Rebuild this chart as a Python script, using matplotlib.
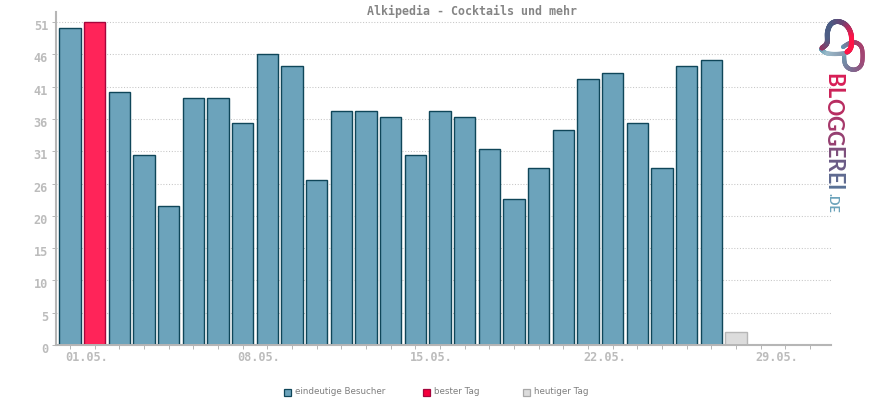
import numpy as np
import matplotlib
matplotlib.use("Agg")
import matplotlib.pyplot as plt
from matplotlib.collections import LineCollection
from matplotlib.colors import to_rgb
from matplotlib.patches import Rectangle
from matplotlib.transforms import ScaledTranslation

title = "Alkipedia - Cocktails und mehr"
days = list(range(31))
visitors = [50, 51, 40, 30, 22, 39, 39, 35, 46, 44, 26, 37, 37, 36, 30, 37, 36, 31, 23, 28, 34, 42, 43, 35, 28, 44, 45]
best_index = 1
today_index = 27
today_value = 2
y_ticks = [0, 5.1, 10.2, 15.3, 20.4, 25.5, 30.6, 35.7, 40.8, 45.9, 51]
y_labels = ["0", "5", "10", "15", "20", "26", "31", "36", "41", "46", "51"]
x_label_days = [0, 7, 14, 21, 28]
x_labels = ["01.05.", "08.05.", "15.05.", "22.05.", "29.05."]
legend_items = ["eindeutige Besucher", "bester Tag", "heutiger Tag"]

GRAY = "#b6b6b6"
W, H = 870, 400
fig = plt.figure(figsize=(8.7, 4), dpi=100)
L, R, T, B = 56, 831, 12, 345
ax = fig.add_axes([L / W, 1 - B / H, (R - L) / W, (B - T) / H])
ax.set_xlim(-0.567, 30.85)
ax.set_ylim(0, (B - T) / (323.0 / 51))
for s in ("top", "right"):
    ax.spines[s].set_visible(False)
for s in ("left", "bottom"):
    ax.spines[s].set_color(GRAY)
    ax.spines[s].set_linewidth(1.5)

ax.set_yticks(y_ticks)
ax.set_yticklabels(y_labels, family="DejaVu Sans Mono", fontweight="bold", fontsize=8.6, color="#bcbcbc")
ax.set_xticks(days)
ax.set_xticklabels([x_labels[x_label_days.index(d)] if d in x_label_days else "" for d in days],
                   family="DejaVu Sans Mono", fontweight="bold", fontsize=8.6, color="#bcbcbc", ha="left")
ax.tick_params(axis="x", length=3, width=0.7, color=GRAY, pad=1.5)
ax.tick_params(axis="y", length=3, width=0.7, color=GRAY, pad=2.8)
off_x = ScaledTranslation(-5 / 100, 0, fig.dpi_scale_trans)
for lab in ax.get_xticklabels():
    lab.set_transform(lab.get_transform() + off_x)
off_y = ScaledTranslation(0, -3 / 100, fig.dpi_scale_trans)
for lab in ax.get_yticklabels():
    lab.set_transform(lab.get_transform() + off_y)
ax.grid(axis="y", color="#c6c6c6", linewidth=0.75, linestyle=(0, (1, 1.7)), zorder=1)
ax.set_axisbelow(True)

x = np.arange(len(visitors))
fills = ["#ff2459" if i == best_index else "#6ca3bb" for i in x]
edges = ["#a5063c" if i == best_index else "#0f4659" for i in x]
ax.bar(x, visitors, width=0.865, color=fills, edgecolor=edges, linewidth=1.0, zorder=3)
ax.bar([today_index], [today_value], width=0.865, color="#dcdcdc", edgecolor=GRAY, linewidth=1.0, zorder=3)
ax.axhline(0.12, color=GRAY, linewidth=0.7, xmax=0.9, zorder=4)

fig.text(472 / W, 1 - 11.5 / H, title, family="DejaVu Sans Mono", fontweight="bold", fontsize=8.4,
         color="#858585", ha="center", va="center")

# overlay in pixel coordinates for legend and logo
ov = fig.add_axes([0, 0, 1, 1], zorder=5)
ov.set_xlim(0, W)
ov.set_ylim(H, 0)
ov.axis("off")
ov.patch.set_alpha(0)

leg_x = [284, 423, 523]
leg_c = [("#6ca3bb", "#0f4659"), ("#f5003c", "#a5063c"), ("#dcdcdc", "#a8a8a8")]
for px, (fc, ec), name in zip(leg_x, leg_c, legend_items):
    ov.add_patch(Rectangle((px + 0.5, 388.5), 7, 7, facecolor=fc, edgecolor=ec, linewidth=0.9))
    ov.text(px + 11, 392, name, fontsize=6.3, color="#7e7e7e", va="center", ha="left", family="DejaVu Sans")


def smooth(pts, n=14):
    p = np.array(pts, float)
    p = np.vstack([p[0], p, p[-1]])
    out = []
    for i in range(1, len(p) - 2):
        for t in np.linspace(0, 1, n, endpoint=False):
            out.append(0.5 * ((2 * p[i]) + (p[i + 1] - p[i - 1]) * t
                              + (2 * p[i - 1] - 5 * p[i] + 4 * p[i + 1] - p[i + 2]) * t ** 2
                              + (3 * p[i] - p[i - 1] - 3 * p[i + 1] + p[i + 2]) * t ** 3))
    out.append(p[-2])
    return np.array(out)


def grad_line(pts, stops, lw=3.0, z=6):
    c = smooth(pts)
    segs = np.stack([c[:-1], c[1:]], axis=1)
    t = np.linspace(0, 1, len(segs))
    rgb = np.array([to_rgb(s) for s in stops])
    pos = np.linspace(0, 1, len(stops))
    cols = np.stack([np.interp(t, pos, rgb[:, k]) for k in range(3)], axis=1)
    ov.add_collection(LineCollection(segs, colors=cols, linewidths=lw, capstyle="round", zorder=z,
                                     antialiaseds=True))


# loop (behind), tail, arch
grad_line([(843, 47), (850, 43), (857, 43), (862, 49), (862, 63), (857, 69), (850, 69), (845, 64), (844, 54)],
          ["#5f9cb5", "#a83a66", "#a04a78", "#7d6c92", "#6f9ab0"], lw=3.0, z=6)
grad_line([(821, 49), (826, 53), (835, 54), (846, 53), (850, 50)],
          ["#4f93ad", "#9dbccb", "#8a9db2", "#5f9cb5"], lw=3.0, z=7)
grad_line([(822, 48), (827, 43), (827.5, 32), (831, 24), (838, 21.5), (846, 25), (851, 34), (851, 47), (847, 52)],
          ["#a02c5c", "#4f5f85", "#4a5c84", "#6c4474", "#ff1447", "#ff1447"], lw=3.6, z=8)

# logo wordmark, one real text per letter with a colour gradient
word = "BLOGGEREI"
word_cols = ["#d81e56", "#cc2258", "#b82c60", "#a6386a", "#953f70", "#7d4f7c", "#6a5b86", "#5f6a90", "#587095"]
fig.canvas.draw()
r = fig.canvas.get_renderer()
arts = [ov.text(832.5, 0, ch, rotation=270, fontsize=15.5, family="Lato", fontweight="bold", color=c,
                ha="center", va="top") for ch, c in zip(word, word_cols)]
hs = [a.get_window_extent(r).height for a in arts]
y = 73.0
gap = (117 - sum(hs)) / (len(word) - 1)
for a, h in zip(arts, hs):
    a.set_y(y)
    y += h + gap
ov.text(832.5, 193, ".DE", rotation=270, fontsize=9, family="Lato", fontweight="bold", color="#6ca3bb", ha="center", va="top")

fig.savefig("out.png", dpi=100)
